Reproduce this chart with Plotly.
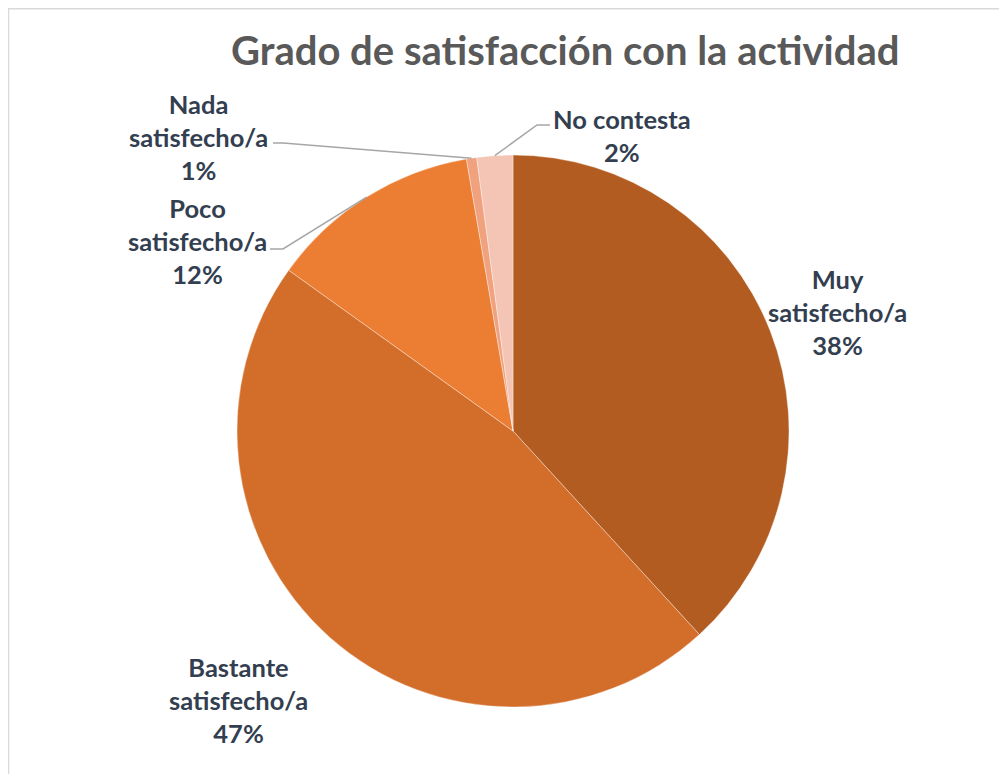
import math
import plotly.graph_objects as go

categories = ["Muy satisfecho/a", "Bastante satisfecho/a", "Poco satisfecho/a", "Nada satisfecho/a", "No contesta"]
label_lines = ["Muy<br>satisfecho/a", "Bastante<br>satisfecho/a", "Poco<br>satisfecho/a", "Nada<br>satisfecho/a", "No contesta"]
values = [38.2, 46.7, 12.4, 0.6, 2.1]
colors = ["#B35C21", "#D36D2A", "#EC7E33", "#F0A27F", "#F4C5B4"]

OFF = 8                      # browser body margin
W, H = 1007 - OFF, 774 - OFF  # figure size so that it fits the window
CX, CY, R = 513, 431, 276    # pie centre / radius in page px

# label centres (page px) and leader elbow points (page px, None = no leader)
label_pos = [(837, 312), (238, 700), (197, 241), (198, 137), (622, 135)]
elbows = [None, None, [(270, 249), (283, 249)], [(273, 143), (283, 143)], [(550, 125), (537, 125)]]


def px(x, y):
    return (x - OFF) / W, 1 - (y - OFF) / H


fig = go.Figure()
x0, y1 = px(CX - R, CY - R)
x1, y0 = px(CX + R, CY + R)
fig.add_trace(go.Pie(
    labels=categories, values=values, sort=False, direction="clockwise", rotation=0,
    marker=dict(colors=colors, line=dict(color="rgba(255,255,255,0.6)", width=0.6)),
    textinfo="none", hoverinfo="label+percent", showlegend=False,
    domain=dict(x=[x0, x1], y=[y0, y1]),
))

total = sum(values)
cum = 0
shapes = []
annotations = []
for i, v in enumerate(values):
    frac = v / total
    mid = (cum + frac / 2) * 2 * math.pi
    cum += frac
    pct = round(frac * 100)
    tx, ty = px(*label_pos[i])
    annotations.append(dict(
        x=tx, y=ty, xref="paper", yref="paper", showarrow=False,
        text=f"<b>{label_lines[i]}<br>{pct}%</b>", align="center",
        xanchor="center", yanchor="middle",
        font=dict(family="Lato", size=25.5, color="#333F50"),
    ))
    if elbows[i]:
        ex = CX + R * math.sin(mid)
        ey = CY - R * math.cos(mid)
        pts = elbows[i] + [(ex, ey)]
        path = "M " + " L ".join(f"{px(a, b)[0]},{px(a, b)[1]}" for a, b in pts)
        shapes.append(dict(type="path", path=path, xref="paper", yref="paper",
                           line=dict(color="#A6A6A6", width=1.5)))

# chart frame
fx0, fy1 = px(8.5, 6.5)
shapes.append(dict(type="rect", xref="paper", yref="paper",
                   x0=fx0, x1=1.05, y0=-0.05, y1=min(fy1, 0.999),
                   line=dict(color="#D9D9D9", width=1.5)))

ttx, tty = px(565, 50)
annotations.append(dict(
    x=ttx, y=tty, xref="paper", yref="paper", showarrow=False,
    text="<b>Grado de satisfacción con la actividad</b>",
    xanchor="center", yanchor="middle",
    font=dict(family="Lato", size=40, color="#595959"),
))

fig.update_layout(
    width=W, height=H, margin=dict(l=0, r=0, t=0, b=0),
    paper_bgcolor="white", plot_bgcolor="white",
    shapes=shapes, annotations=annotations,
)
fig.write_html("out.html")
